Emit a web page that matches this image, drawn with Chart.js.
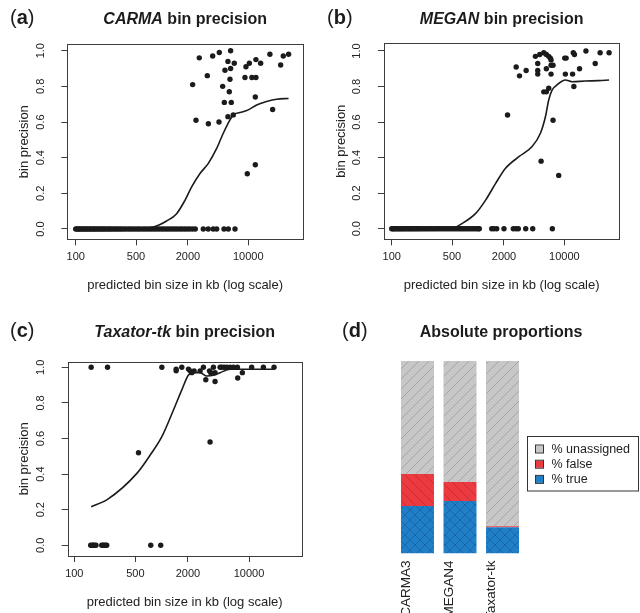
<!DOCTYPE html>
<html>
<head>
<meta charset="utf-8">
<script src="https://cdn.jsdelivr.net/npm/chart.js@4.4.1/dist/chart.umd.min.js"></script>
<style>
  html, body { margin: 0; padding: 0; background: #fff; width: 640px; height: 613px; overflow: hidden; }
  .panel { position: absolute; }
</style>
</head>
<body>
<div class="panel" style="left:0;top:0"><canvas id="pa" width="320" height="300"></canvas></div>
<div class="panel" style="left:320px;top:0"><canvas id="pb" width="320" height="300"></canvas></div>
<div class="panel" style="left:0;top:300px"><canvas id="pc" width="320" height="317"></canvas></div>
<div class="panel" style="left:320px;top:300px"><canvas id="pd" width="320" height="340"></canvas></div>
<script>
const FAM = '"Liberation Sans", Arial, Helvetica, sans-serif';
const INK = '#222';

// shared axis ticks
const xTicks = [100, 500, 2000, 10000];
const yTicks = [0, 0.2, 0.4, 0.6, 0.8, 1.0];

// (a) CARMA — bins with precision 0 (x in kb), other bins, loess curve
const carmaZeroX = [100, 103, 107, 110, 114, 119, 123, 128, 133, 138, 144, 149, 156, 162, 168, 176, 183, 191, 199, 208,
  217, 227, 238, 249, 261, 275, 289, 304, 321, 338, 358, 380, 405, 430, 458, 488, 520, 552, 590, 630, 672, 718, 765,
  815, 872, 935, 1000, 1065, 1140, 1215, 1300, 1390, 1485, 1590, 1700, 1820, 1950, 2090, 2250, 2430,
  3010, 3435, 3925, 4300, 5230, 5865, 7015];
const carmaX = [2265, 2477, 2705, 3350, 3445, 3865, 4615, 4575, 5050, 5275, 5370, 5810, 6025, 5810, 6135, 6240, 6240, 6350,
  6700, 6880, 9150, 9400, 10280, 9740, 11010, 12260, 12260, 13900, 12060, 12060, 17800, 19140, 23700, 25430, 29300];
const carmaY = [0.81, 0.61, 0.96, 0.86, 0.59, 0.97, 0.99, 0.60, 0.80, 0.71, 0.89, 0.94, 0.77, 0.63, 0.84, 1.00, 0.90, 0.71,
  0.64, 0.93, 0.85, 0.91, 0.93, 0.31, 0.85, 0.85, 0.95, 0.93, 0.74, 0.36, 0.98, 0.67, 0.92, 0.97, 0.98];
const carmaCurveX = [100, 466, 795, 1132, 1479, 1846, 2206, 2757, 3443, 4300, 5130, 6135, 6700, 8000, 10000, 12500, 16300, 21300, 29300];
const carmaCurveY = [0, 0, 0.011, 0.045, 0.086, 0.161, 0.236, 0.311, 0.368, 0.452, 0.537, 0.612, 0.640, 0.653, 0.668, 0.696, 0.715, 0.728, 0.732];

// (b) MEGAN
const meganZeroX = [100, 103, 106, 109, 113, 117, 121, 125, 130, 134, 139, 145, 150, 156, 161, 168, 174, 181, 188, 196,
  204, 213, 222, 232, 243, 254, 266, 279, 293, 308, 324, 341, 359, 378, 398, 419, 441, 465, 490, 516, 544, 573, 604,
  636, 670, 706, 744, 784, 826, 870, 917, 966, 1010, 1035, 1442, 1531, 1647, 2000, 2564, 2754, 2930, 3570, 4306, 7262];
const meganX = [2198, 2768, 3025, 3612, 4624, 4920, 4920, 4920, 5190, 5780, 6190, 6595, 6890, 7020, 6190, 7020, 7400, 7020,
  5780, 6190, 6595, 5380, 7400, 8610, 10100, 10500, 10280, 12470, 12700, 13100, 12900, 15000, 17800, 22800, 26000, 33000];
const meganY = [0.64, 0.91, 0.86, 0.89, 0.97, 0.93, 0.89, 0.87, 0.98, 0.99, 0.98, 0.97, 0.96, 0.95, 0.90, 0.92, 0.92, 0.87,
  0.77, 0.77, 0.79, 0.38, 0.61, 0.30, 0.96, 0.96, 0.87, 0.87, 0.99, 0.98, 0.80, 0.90, 1.00, 0.93, 0.99, 0.99];
const meganCurveX = [100, 484, 659, 940, 1225, 1600, 2084, 2971, 4236, 5285, 6040, 6595, 7210, 8230, 10280, 12250, 17460, 24900, 33000];
const meganCurveY = [0, 0, 0.030, 0.086, 0.161, 0.255, 0.340, 0.405, 0.462, 0.537, 0.630, 0.724, 0.780, 0.809, 0.837, 0.827, 0.831, 0.833, 0.837];

// (c) Taxator-tk
const taxZeroX = [154, 160, 164, 170, 177, 206, 212, 219, 228, 235, 750, 975];
const taxX = [156, 240, 1005, 543, 1465, 1465, 1700, 2026, 2118, 2213, 2352, 2756, 3007, 3200, 3525, 3650, 3910, 4085, 4085,
  4667, 4876, 5190, 5560, 6070, 6625, 7360, 3580, 7420, 8390, 10720, 14600, 19330];
const taxY = [1.00, 1.00, 1.00, 0.52, 0.99, 0.98, 1.00, 0.99, 0.98, 0.97, 0.98, 0.98, 1.00, 0.93, 0.98, 0.97, 1.00, 0.92, 0.97,
  1.00, 1.00, 1.00, 1.00, 1.00, 1.00, 1.00, 0.58, 0.94, 0.97, 1.00, 1.00, 1.00];
const taxCurveX = [156, 240, 520, 739, 1005, 1365, 1700, 2026, 2313, 2756, 3280, 3910, 4667, 6070, 7890, 19330];
const taxCurveY = [0.217, 0.258, 0.404, 0.507, 0.610, 0.760, 0.873, 0.957, 0.970, 0.970, 0.951, 0.955, 0.970, 0.989, 0.989, 0.989];

// (d) absolute proportions (%)
const methods = ['CARMA3', 'MEGAN4', 'Taxator-tk'];
const truePct = [24.7, 27.3, 13.6];
const falsePct = [16.6, 9.9, 0.5];
const unassignedPct = [58.7, 62.8, 85.9];

Chart.defaults.font.family = FAM;
Chart.defaults.color = INK;

function pts(xs, ys) { return xs.map((x, i) => ({ x: x, y: ys[i] })); }
function zeros(xs) { return xs.map(x => ({ x: x, y: 0 })); }

function makeDecor(cfg) {
  return {
    id: 'decor',
    afterDraw(chart) {
      const ctx = chart.ctx, a = chart.chartArea;
      ctx.save();
      if (cfg.box) {
        ctx.strokeStyle = '#3c3c3c';
        ctx.lineWidth = 1;
        ctx.strokeRect(Math.round(a.left) + 0.5, Math.round(a.top) + 0.5,
          Math.round(a.right - a.left), Math.round(a.bottom - a.top));
      }
      ctx.fillStyle = '#1c1c1c';
      ctx.textBaseline = 'alphabetic';
      ctx.textAlign = 'left';
      let x = cfg.tagX;
      [['(', '20px '], [cfg.tag, 'bold 20px '], [')', '20px ']].forEach(p => {
        ctx.font = p[1] + FAM;
        ctx.fillText(p[0], x, cfg.baseY + 0.5);
        x += ctx.measureText(p[0]).width;
      });
      let w = 0;
      cfg.title.forEach(p => { ctx.font = (p.it ? 'italic ' : '') + 'bold 16px ' + FAM; w += ctx.measureText(p.t).width; });
      x = (cfg.titleX !== undefined ? cfg.titleX : (a.left + a.right) / 2) - w / 2;
      cfg.title.forEach(p => {
        ctx.font = (p.it ? 'italic ' : '') + 'bold 16px ' + FAM;
        ctx.fillText(p.t, x, cfg.baseY);
        x += ctx.measureText(p.t).width;
      });
      ctx.restore();
    }
  };
}

function scatterPanel(id, c) {
  const W = 320, H = c.h, A = c.area;
  return new Chart(document.getElementById(id), {
    type: 'scatter',
    data: {
      datasets: [
        { data: zeros(c.zeroX).concat(pts(c.x, c.y)), pointRadius: 2.7, pointBorderWidth: 0,
          pointBackgroundColor: '#1b1b1b', order: 2 },
        { type: 'line', data: pts(c.curveX, c.curveY), borderColor: '#1b1b1b', borderWidth: 1.6,
          pointRadius: 0, fill: false, cubicInterpolationMode: 'monotone', order: 1 }
      ]
    },
    options: {
      responsive: false, animation: false, events: [],
      layout: { padding: { left: 0, top: A.top, right: W - A.right, bottom: 0 } },
      plugins: { legend: { display: false }, tooltip: { enabled: false } },
      scales: {
        x: {
          type: 'logarithmic', min: c.xMin, max: c.xMax,
          afterBuildTicks: s => { s.ticks = xTicks.map(v => ({ value: v })); },
          afterFit: s => { s.height = H - A.bottom; },
          ticks: { autoSkip: false, maxRotation: 0, padding: 5, font: { size: 11 }, color: INK, callback: v => String(v) },
          grid: { drawOnChartArea: false, tickLength: 6, color: '#3c3c3c' },
          border: { display: false },
          title: { display: true, text: 'predicted bin size in kb (log scale)', font: { size: 13 }, color: INK,
            padding: { top: 0, bottom: H - A.bottom - 46.4 - 7.8 } }
        },
        y: {
          min: c.yMin, max: c.yMax,
          afterBuildTicks: s => { s.ticks = yTicks.map(v => ({ value: v })); },
          afterFit: s => { s.width = A.left; },
          ticks: { minRotation: 90, maxRotation: 90, crossAlign: 'center', padding: 13, font: { size: 11 }, color: INK,
            callback: v => v.toFixed(1) },
          grid: { drawOnChartArea: false, tickLength: 6, color: '#3c3c3c' },
          border: { display: false },
          title: { display: true, text: 'bin precision', font: { size: 13 }, color: INK,
            padding: { top: A.left - 43 - 7.8, bottom: 0 } }
        }
      }
    },
    plugins: [makeDecor({ box: true, tag: c.tag, tagX: c.tagX, baseY: c.baseY, title: c.title })]
  });
}

scatterPanel('pa', {
  h: 300, area: { left: 67.3, top: 44, right: 303, bottom: 239.3 },
  xMin: 79.95, xMax: 43040, yMin: -0.0578, yMax: 1.0376,
  zeroX: carmaZeroX, x: carmaX, y: carmaY, curveX: carmaCurveX, curveY: carmaCurveY,
  tag: 'a', tagX: 10, baseY: 23.5, title: [{ t: 'CARMA', it: true }, { t: ' bin precision' }]
});
scatterPanel('pb', {
  h: 300, area: { left: 64, top: 43, right: 299.3, bottom: 239.3 },
  xMin: 81.4, xMax: 43350, yMin: -0.0597, yMax: 1.045,
  zeroX: meganZeroX, x: meganX, y: meganY, curveX: meganCurveX, curveY: meganCurveY,
  tag: 'b', tagX: 7, baseY: 23.5, title: [{ t: 'MEGAN', it: true }, { t: ' bin precision' }]
});
scatterPanel('pc', {
  h: 317, area: { left: 67.7, top: 61.7, right: 301.7, bottom: 256 },
  xMin: 84.0, xMax: 40090, yMin: -0.060, yMax: 1.0315,
  zeroX: taxZeroX, x: taxX, y: taxY, curveX: taxCurveX, curveY: taxCurveY,
  tag: 'c', tagX: 10, baseY: 36.5, title: [{ t: 'Taxator-tk', it: true }, { t: ' bin precision' }]
});

// hatch fills for the bar panel
function hatch(bg, line, dirs) {
  const t = document.createElement('canvas');
  t.width = t.height = 10;
  const g = t.getContext('2d');
  g.fillStyle = bg;
  g.fillRect(0, 0, 10, 10);
  g.strokeStyle = line;
  g.lineWidth = 0.9;
  dirs.forEach(d => {
    g.beginPath();
    if (d === '/') {
      g.moveTo(-1, 11); g.lineTo(11, -1);
      g.moveTo(-6, 6); g.lineTo(6, -6);
      g.moveTo(4, 16); g.lineTo(16, 4);
    } else {
      g.moveTo(-1, -1); g.lineTo(11, 11);
      g.moveTo(-6, 4); g.lineTo(6, 16);
      g.moveTo(4, -6); g.lineTo(16, 6);
    }
    g.stroke();
  });
  return g.createPattern(t, 'repeat');
}
const grayFill = '#c7c7c7', redFill = '#ec3a40', blueFill = '#1f80c8';
const grayHatch = hatch(grayFill, '#a3a3a3', ['/']);
const redHatch = hatch(redFill, '#c52b33', ['\\']);
const blueHatch = hatch(blueFill, '#1864a6', ['/', '\\']);

const legendItems = [
  { text: '% unassigned', color: grayFill },
  { text: '% false', color: redFill },
  { text: '% true', color: blueFill }
];
const legendBox = {
  id: 'legendBox',
  afterDraw(chart) {
    const ctx = chart.ctx;
    ctx.save();
    ctx.strokeStyle = '#333';
    ctx.lineWidth = 1;
    ctx.strokeRect(207.5, 136.5, 111, 54.5);
    ctx.font = '12.5px ' + FAM;
    ctx.textBaseline = 'middle';
    legendItems.forEach((it, i) => {
      const y = 149 + i * 15.2;
      ctx.fillStyle = it.color;
      ctx.fillRect(216, y - 3.5, 7, 7);
      ctx.strokeStyle = '#333';
      ctx.strokeRect(215.5, y - 4, 8, 8);
      ctx.fillStyle = INK;
      ctx.fillText(it.text, 231.5, y + 0.5);
    });
    ctx.restore();
  }
};

new Chart(document.getElementById('pd'), {
  type: 'bar',
  data: {
    labels: methods,
    datasets: [
      { label: '% true', data: truePct, backgroundColor: blueHatch },
      { label: '% false', data: falsePct, backgroundColor: redHatch },
      { label: '% unassigned', data: unassignedPct, backgroundColor: grayHatch }
    ]
  },
  options: {
    responsive: false, animation: false, events: [],
    layout: { padding: { left: 76.25, top: 61, right: 116.25, bottom: 0 } },
    datasets: { bar: { categoryPercentage: 1, barPercentage: 0.776, borderWidth: 0 } },
    plugins: { legend: { display: false }, tooltip: { enabled: false } },
    scales: {
      x: {
        stacked: true,
        grid: { display: false }, border: { display: false },
        afterFit: s => { s.height = 340 - 253.5; },
        ticks: { minRotation: 90, maxRotation: 90, padding: -1, labelOffset: -11, font: { size: 13.5 }, color: INK }
      },
      y: { stacked: true, display: false, min: 0, max: 100 }
    }
  },
  plugins: [legendBox, makeDecor({ box: false, tag: 'd', tagX: 22, baseY: 36.5, titleX: 181,
    title: [{ t: 'Absolute proportions' }] })]
});
</script>
</body>
</html>
